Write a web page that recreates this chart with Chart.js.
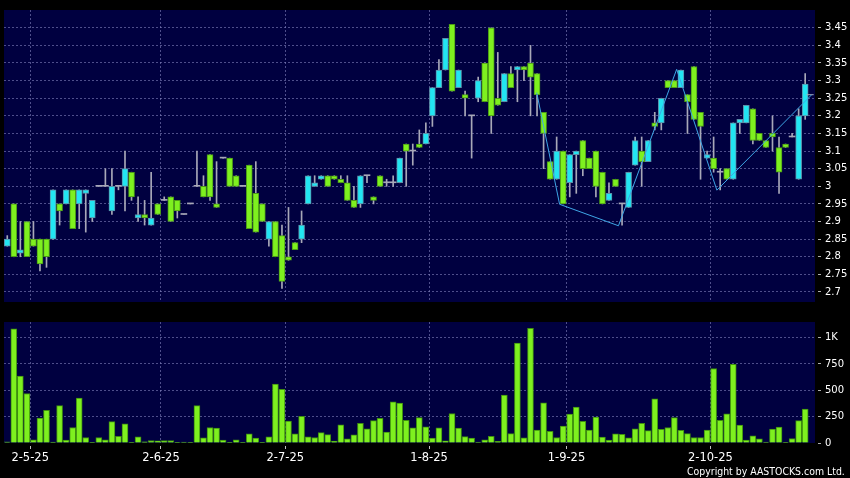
<!DOCTYPE html>
<html><head><meta charset="utf-8">
<script src="https://cdn.jsdelivr.net/npm/chart.js@4.4.1/dist/chart.umd.min.js"></script>
<style>
html,body{margin:0;padding:0;background:#000;width:850px;height:478px;overflow:hidden;}
#c1{position:absolute;left:0;top:0;}
#c2{position:absolute;left:0;top:312px;}
#copy{position:absolute;left:687px;top:466px;font-family:'DejaVu Sans';font-size:11px;line-height:11px;color:#fff;white-space:nowrap;transform:scaleX(0.852);transform-origin:0 0;}
</style></head><body>
<canvas id="c1" width="850" height="312"></canvas>
<canvas id="c2" width="850" height="166"></canvas>
<div id="copy">Copyright by AASTOCKS.com Ltd.</div>
<script>
const opens = [2.83,2.95,2.81,2.90,2.85,2.85,2.85,2.85,2.95,2.95,
2.99,2.95,2.98,2.91,3.00,3.00,2.93,3.00,3.00,3.04,
2.91,2.92,2.89,2.95,2.96,2.97,2.96,2.92,2.95,3.00,
3.00,3.09,2.95,3.08,3.08,3.03,3.00,3.06,2.98,2.95,
2.85,2.90,2.86,2.80,2.84,2.85,2.95,3.00,3.02,3.03,
3.03,3.02,3.01,2.96,2.95,3.03,2.97,3.03,3.01,3.01,
3.01,3.12,3.10,3.12,3.12,3.20,3.28,3.33,3.46,3.28,
3.26,3.20,3.25,3.35,3.45,3.25,3.24,3.32,3.33,3.34,
3.35,3.32,3.21,3.07,3.02,3.10,3.01,3.09,3.13,3.08,
3.10,3.04,2.96,3.02,2.95,2.94,3.06,3.10,3.07,3.18,
3.18,3.30,3.30,3.28,3.26,3.34,3.21,3.08,3.08,3.04,
3.05,3.02,3.18,3.18,3.22,3.15,3.13,3.15,3.11,3.12,
3.14,3.02,3.20];
const highs = [2.86,2.95,2.90,2.90,2.90,2.85,2.85,2.99,2.95,2.99,
2.99,2.99,2.99,2.96,3.00,3.05,3.05,3.00,3.10,3.04,
2.97,2.96,3.04,2.95,2.97,2.97,2.96,2.92,2.95,3.10,
3.03,3.09,3.07,3.08,3.08,3.03,3.00,3.06,3.07,2.95,
2.90,2.90,2.89,2.94,2.84,2.93,3.03,3.03,3.03,3.03,
3.03,3.03,3.03,3.00,3.03,3.03,2.97,3.03,3.02,3.03,
3.08,3.12,3.12,3.16,3.18,3.28,3.36,3.42,3.46,3.33,
3.27,3.20,3.31,3.35,3.45,3.38,3.32,3.34,3.34,3.34,
3.40,3.32,3.21,3.07,3.14,3.10,3.09,3.10,3.13,3.08,
3.10,3.04,3.01,3.02,2.95,3.04,3.14,3.14,3.13,3.21,
3.25,3.30,3.30,3.33,3.26,3.34,3.21,3.10,3.14,3.05,
3.05,3.18,3.19,3.23,3.22,3.15,3.13,3.20,3.14,3.12,
3.15,3.22,3.32];
const lows = [2.83,2.80,2.80,2.80,2.83,2.76,2.77,2.85,2.89,2.95,
2.88,2.88,2.87,2.90,3.00,3.00,2.92,2.99,2.93,2.96,
2.90,2.89,2.89,2.92,2.96,2.90,2.91,2.92,2.95,3.00,
2.97,2.96,2.94,3.08,3.00,3.00,3.00,2.88,2.87,2.90,
2.83,2.80,2.71,2.79,2.82,2.84,2.95,3.00,3.02,3.00,
3.02,3.01,2.96,2.94,2.94,3.01,2.95,3.00,3.00,3.00,
3.01,3.00,3.06,3.11,3.12,3.17,3.28,3.33,3.27,3.28,
3.20,3.08,3.24,3.24,3.15,3.23,3.24,3.28,3.24,3.30,
3.20,3.20,3.05,3.02,3.02,2.95,2.97,2.98,3.03,3.05,
2.97,2.95,2.96,3.00,2.89,2.94,3.06,3.00,3.07,3.16,
3.16,3.28,3.28,3.28,3.15,3.19,3.02,3.08,3.04,2.99,
3.02,3.02,3.15,3.18,3.12,3.13,3.11,3.10,2.98,3.11,
3.14,3.02,3.19];
const closes = [2.85,2.80,2.82,2.80,2.83,2.78,2.80,2.99,2.93,2.99,
2.88,2.99,2.99,2.96,3.00,3.00,3.00,3.00,3.05,2.97,
2.92,2.91,2.91,2.92,2.96,2.90,2.93,2.92,2.95,3.00,
2.97,2.97,2.94,3.08,3.00,3.00,3.00,2.88,2.87,2.90,
2.90,2.80,2.73,2.79,2.82,2.89,3.03,3.01,3.03,3.00,
3.02,3.01,2.96,2.94,3.03,3.03,2.96,3.00,3.01,3.01,
3.08,3.10,3.10,3.11,3.15,3.28,3.33,3.42,3.27,3.33,
3.25,3.20,3.30,3.24,3.20,3.23,3.32,3.28,3.34,3.33,
3.31,3.26,3.15,3.02,3.10,2.95,3.09,3.10,3.05,3.05,
3.00,2.95,2.98,3.00,2.95,3.04,3.13,3.07,3.13,3.17,
3.25,3.28,3.28,3.33,3.24,3.19,3.17,3.09,3.05,3.04,
3.02,3.18,3.19,3.23,3.13,3.13,3.11,3.14,3.04,3.11,
3.14,3.20,3.29];
const volumes = [10,1083,636,470,30,237,310,8,354,27,
147,427,52,3,52,30,203,64,181,2,
58,12,24,21,24,24,6,9,2,354,
49,147,141,27,2,30,2,86,46,2,
58,560,510,209,86,252,58,52,98,80,
18,172,40,77,187,135,212,234,104,390,
378,215,144,240,154,46,144,21,280,141,
61,46,9,30,64,15,455,89,947,49,
1089,123,381,110,52,160,274,341,206,123,
246,55,27,86,83,49,135,187,117,418,
129,147,240,120,89,52,52,123,707,215,
277,747,169,27,68,40,9,132,150,2,
43,212,323];
const monthPos = [3.5, 23.5, 42.5, 64.5, 85.5, 107.5];
const monthLabels = ['2-5-25','2-6-25','2-7-25','1-8-25','1-9-25','2-10-25'];
const priceTicks = [2.7,2.75,2.8,2.85,2.9,2.95,3.0,3.05,3.1,3.15,3.2,3.25,3.3,3.35,3.4,3.45];
const priceTickLabels = ['2.7','2.75','2.8','2.85','2.9','2.95','3','3.05','3.1','3.15','3.2','3.25','3.3','3.35','3.4','3.45'];
const volTicks = [0,250,500,750,1000];
const volTickLabels = ['0','250','500','750','1K'];
const zigzagX = [80.95, 84.45, 93.45, 102.35, 108.5, 123.0];
const zigzagY = [3.266, 2.949, 2.888, 3.332, 2.989, 3.26];
const lastPriceX = [122.2, 123.3];
const lastPrice = 3.26;

Chart.defaults.font.family = "'DejaVu Sans'";
Chart.defaults.color = '#ffffff';
const GRID = 'rgba(130,130,190,0.6)';
const UP = '#22e5f2', UP_B = '#5b8fa8', DN = '#7ef01f', DN_B = '#4b9a17', WICK = '#a8a8b8';
const plotBg = { id:'plotBg', beforeDraw(chart){ const {ctx, chartArea:a} = chart; ctx.save(); ctx.fillStyle='#000040'; ctx.fillRect(a.left,a.top,a.right-a.left,a.bottom-a.top); ctx.restore(); } };
const idx = opens.map((_, i) => i);
const kind = i => closes[i] > opens[i] ? 1 : (closes[i] < opens[i] ? -1 : 0);

new Chart(document.getElementById('c1'), {
  type: 'bar',
  data: { datasets: [
    { type:'line', data: zigzagX.map((x,k)=>({x, y: zigzagY[k]})), borderColor:'#3ea6e6', borderWidth:1, pointRadius:0, tension:0, order:0 },
    { type:'line', data: lastPriceX.map(x=>({x, y:lastPrice})), borderColor:WICK, borderWidth:1, pointRadius:0, order:0 },
    { data: idx.map(i=>({x:i, y:[opens[i], closes[i]]})), barThickness:6, minBarLength:1, grouped:false, borderSkipped:false,
      backgroundColor: c => { const k = kind(c.dataIndex); return k>0?UP:(k<0?DN:WICK); },
      borderColor: c => kind(c.dataIndex)>0?UP_B:DN_B,
      borderWidth: c => kind(c.dataIndex)===0?0:1, order:1 },
    { data: idx.map(i=>({x:i, y:[lows[i], highs[i]]})), barThickness:1, grouped:false, backgroundColor:WICK, borderWidth:0, order:2 }
  ]},
  options: {
    responsive:false, animation:false, events:[],
    plugins:{ legend:{display:false}, tooltip:{enabled:false} },
    layout:{ padding:{ left:4, top:5, right:0, bottom:6 } },
    scales:{
      x:{ type:'linear', min:-0.5, max:123.5, offset:false,
          grid:{ offset:false, color:GRID, drawTicks:false }, border:{ display:false, dash:[2,2] },
          ticks:{ display:false },
          afterBuildTicks: s => { s.ticks = monthPos.map(v=>({value:v})); },
          afterFit: s => { s.height = 0; } },
      y:{ position:'right', min:2.6716, max:3.5004,
          grid:{ color:GRID, tickLength:6, tickColor:'#b0b0b0', tickBorderDash:[0,3,3,0] }, border:{ display:false, dash:[2,2] },
          ticks:{ color:'#ffffff', padding:4, font:{size:10}, autoSkip:false, callback:(v,i)=>priceTickLabels[i] },
          afterBuildTicks: s => { s.ticks = priceTicks.map(v=>({value:v})); },
          afterFit: s => { s.width = 35; } }
    }
  },
  plugins:[plotBg]
});

new Chart(document.getElementById('c2'), {
  type: 'bar',
  data: { datasets: [
    { data: idx.map(i=>({x:i, y:volumes[i]})), barThickness:6, grouped:false, backgroundColor:DN, borderColor:'#3f8f10', borderWidth:1 }
  ]},
  options: {
    responsive:false, animation:false, events:[],
    plugins:{ legend:{display:false}, tooltip:{enabled:false} },
    layout:{ padding:{ left:4, top:7, right:0, bottom:0 } },
    scales:{
      x:{ type:'linear', min:-0.5, max:123.5, offset:false,
          grid:{ offset:false, color:GRID, tickLength:6, tickColor:'#c0c0c0', tickBorderDash:[0,3,3,0] }, border:{ display:false, dash:[2,2] },
          ticks:{ color:'#ffffff', padding:2, font:{size:11.5}, maxRotation:0, autoSkip:false, callback:(v,i)=>monthLabels[i] },
          afterBuildTicks: s => { s.ticks = monthPos.map(v=>({value:v})); },
          afterFit: s => { s.height = 35; } },
      y:{ position:'right', min:0, max:1148,
          grid:{ color: c => c.tick && c.tick.value === 0 ? 'rgba(0,0,0,0)' : GRID, tickLength:6, tickColor:'#b0b0b0', tickBorderDash:[0,3,3,0] }, border:{ display:false, dash:[2,2] },
          ticks:{ color:'#ffffff', padding:4, font:{size:10}, autoSkip:false, callback:(v,i)=>volTickLabels[i] },
          afterBuildTicks: s => { s.ticks = volTicks.map(v=>({value:v})); },
          afterFit: s => { s.width = 35; } }
    }
  },
  plugins:[plotBg]
});
</script>
</body></html>
